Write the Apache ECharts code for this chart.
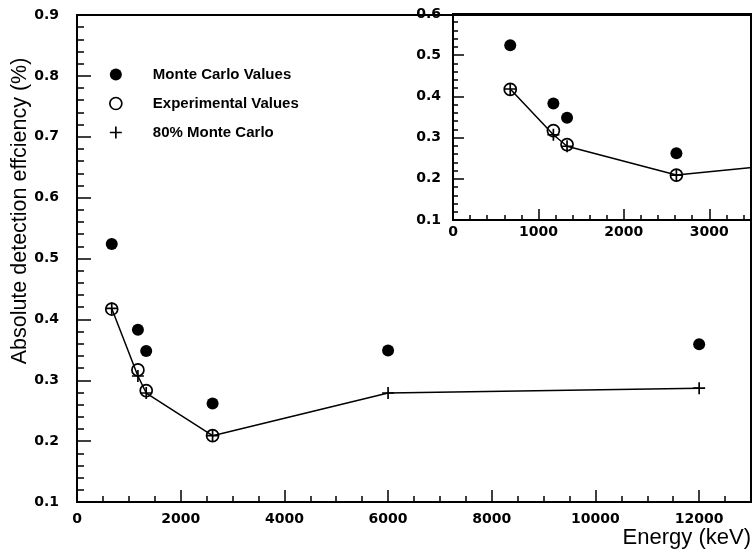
<!DOCTYPE html>
<html>
<head>
<meta charset="utf-8">
<script src="https://cdn.jsdelivr.net/npm/echarts@6/dist/echarts.min.js"></script>
<style>html,body{margin:0;padding:0;background:#fff}#c{width:752px;height:555px}</style>
</head>
<body>
<div id="c"></div>
<script>
// Data
const energies = [670, 1175, 1335, 2615, 6000, 12000];
const monteCarlo = [0.524, 0.383, 0.348, 0.262, 0.349, 0.359];
const expEnergies = [670, 1175, 1335, 2615];
const experimental = [0.417, 0.317, 0.283, 0.209];
const mc80 = [0.418, 0.307, 0.279, 0.209, 0.279, 0.287];
const seriesNames = ['Monte Carlo Values', 'Experimental Values', '80% Monte Carlo'];

const pair = (xs, ys) => xs.map((x, i) => [x, ys[i]]);
const PLUS = 'path://M4.3,0H5.7V4.3H10V5.7H5.7V10H4.3V5.7H0V4.3H4.3Z';
const TICKFONT = {fontFamily: 'DejaVu Sans', fontWeight: 'bold', fontSize: 14, color: '#000'};

function makeSeries(xi, yi) {
  return [
    {name: seriesNames[2], type: 'line', xAxisIndex: xi, yAxisIndex: yi, data: pair(energies, mc80),
     symbol: PLUS, symbolSize: 12, lineStyle: {color: '#000', width: 1.5},
     itemStyle: {color: '#000', opacity: 1}, z: 2, animation: false, clip: true},
    {name: seriesNames[0], type: 'scatter', xAxisIndex: xi, yAxisIndex: yi, data: pair(energies, monteCarlo),
     symbol: 'circle', symbolSize: 12, itemStyle: {color: '#000', opacity: 1}, z: 3, animation: false},
    {name: seriesNames[1], type: 'scatter', xAxisIndex: xi, yAxisIndex: yi, data: pair(expEnergies, experimental),
     symbol: 'circle', symbolSize: 12,
     itemStyle: {color: 'rgba(0,0,0,0)', borderColor: '#000', borderWidth: 1.7, opacity: 1}, z: 3, animation: false}
  ];
}

const chart = echarts.init(document.getElementById('c'), null, {renderer: 'canvas'});
chart.setOption({
  backgroundColor: '#fff',
  animation: false,
  grid: [
    {left: 77, top: 15, right: 1, bottom: 53, show: true, borderColor: '#000', borderWidth: 2},
    {left: 453, top: 14, right: -1, bottom: 335, show: true, borderColor: '#000', borderWidth: 2}
  ],
  xAxis: [
    {gridIndex: 0, type: 'value', min: 0, max: 13000, interval: 2000,
     axisLine: {show: true, lineStyle: {color: '#000', width: 2}},
     axisTick: {show: true, inside: true, length: 12, lineStyle: {color: '#000', width: 1.5}},
     minorTick: {show: true, splitNumber: 4, length: 6, lineStyle: {color: '#000', width: 1.5}},
     splitLine: {show: false},
     axisLabel: Object.assign({margin: 10, showMaxLabel: false, formatter: v => String(v)}, TICKFONT)},
    {gridIndex: 1, type: 'value', min: 0, max: 3500, interval: 1000,
     axisLine: {show: true, lineStyle: {color: '#000', width: 2}},
     axisTick: {show: true, inside: true, length: 11, lineStyle: {color: '#000', width: 1.5}},
     minorTick: {show: true, splitNumber: 5, length: 5, lineStyle: {color: '#000', width: 1.5}},
     splitLine: {show: false},
     axisLabel: Object.assign({margin: 5, showMaxLabel: false, formatter: v => String(v)}, TICKFONT)}
  ],
  yAxis: [
    {gridIndex: 0, type: 'value', min: 0.1, max: 0.9, interval: 0.1,
     axisLine: {show: true, lineStyle: {color: '#000', width: 2}},
     axisTick: {show: true, inside: true, length: 14, lineStyle: {color: '#000', width: 1.5}},
     minorTick: {show: true, splitNumber: 5, length: 7, lineStyle: {color: '#000', width: 1.5}},
     splitLine: {show: false},
     axisLabel: Object.assign({margin: 18, formatter: v => v.toFixed(1)}, TICKFONT)},
    {gridIndex: 1, type: 'value', min: 0.1, max: 0.6, interval: 0.1,
     axisLine: {show: true, lineStyle: {color: '#000', width: 2}},
     axisTick: {show: true, inside: true, length: 11, lineStyle: {color: '#000', width: 1.5}},
     minorTick: {show: true, splitNumber: 5, length: 5, lineStyle: {color: '#000', width: 1.5}},
     splitLine: {show: false},
     axisLabel: Object.assign({margin: 12, formatter: v => v.toFixed(1)}, TICKFONT)}
  ],
  legend: {
    orient: 'vertical', left: 104, top: 62, itemWidth: 12, itemHeight: 12, itemGap: 14,
    selectedMode: false,
    textStyle: {fontFamily: 'Liberation Sans', fontWeight: 'bold', fontSize: 15, color: '#000', padding: [0, 0, 0, 26]},
    data: [
      {name: seriesNames[0], icon: 'circle', itemStyle: {color: '#000', opacity: 1}},
      {name: seriesNames[1], icon: 'circle', itemStyle: {color: 'rgba(0,0,0,0)', borderColor: '#000', borderWidth: 1.7, opacity: 1}},
      {name: seriesNames[2], icon: PLUS, itemStyle: {color: '#000', opacity: 1}}
    ]
  },
  graphic: [
    {type: 'text', x: 20, y: 211, rotation: Math.PI / 2,
     style: {text: 'Absolute detection effciency (%)', font: '21.5px "Liberation Sans"', fill: '#000',
             textAlign: 'center', textVerticalAlign: 'middle'}},
    {type: 'text', x: 751, y: 538,
     style: {text: 'Energy (keV)', font: '22px "Liberation Sans"', fill: '#000',
             textAlign: 'right', textVerticalAlign: 'middle'}}
  ],
  series: makeSeries(0, 0).concat(makeSeries(1, 1))
});
</script>
</body>
</html>
